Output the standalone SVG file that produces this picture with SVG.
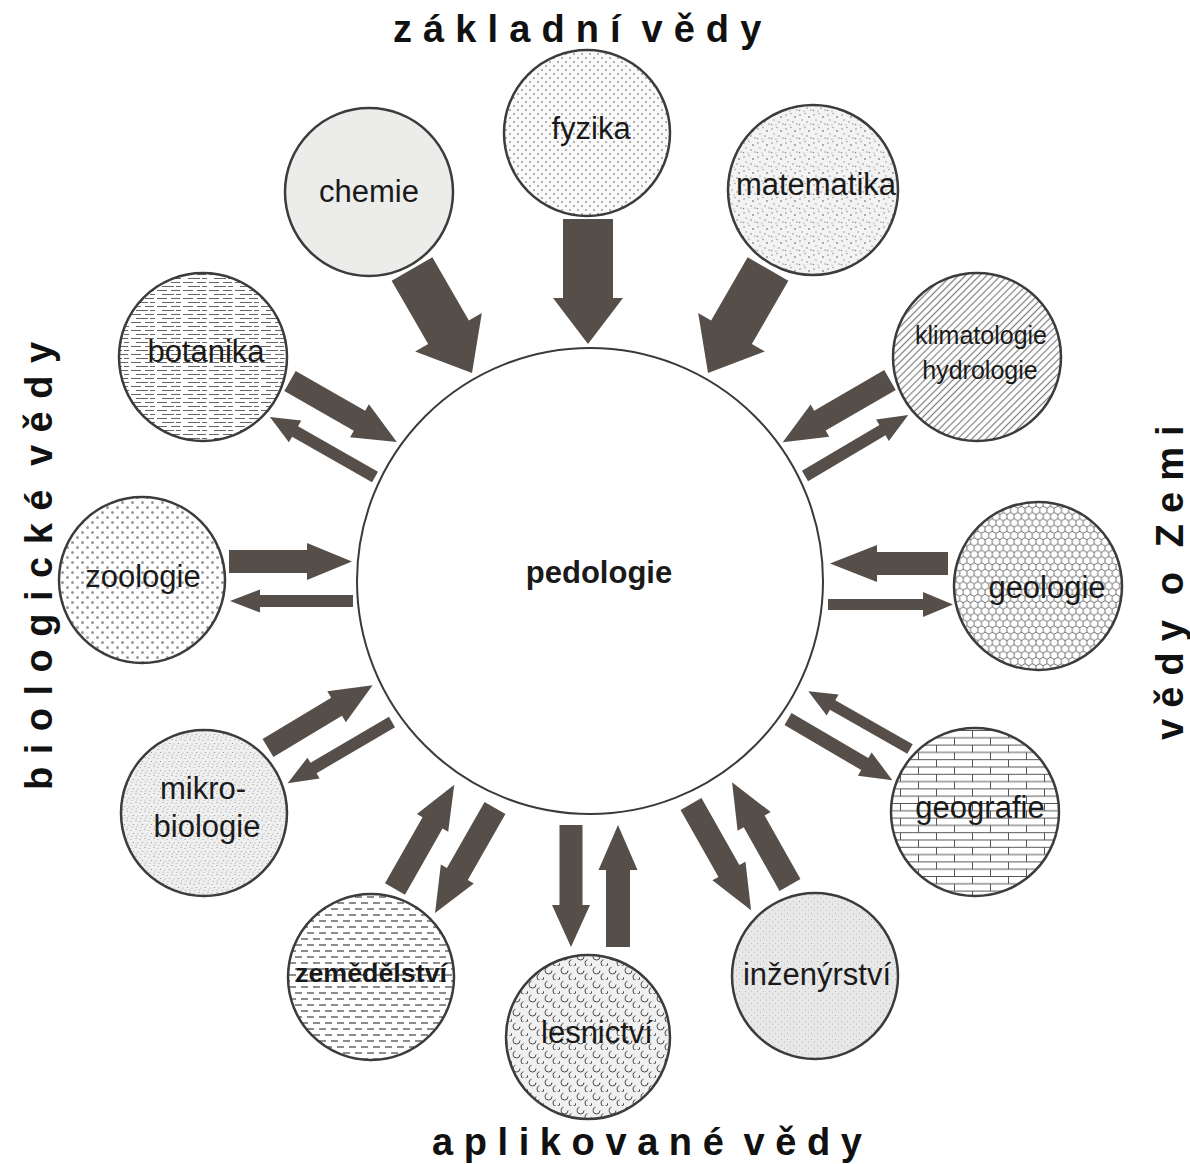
<svg xmlns="http://www.w3.org/2000/svg" width="1190" height="1164" viewBox="0 0 1190 1164">
<style>
.sat{stroke:#3c3c3c;stroke-width:2.5}
.ctr{fill:#fff;stroke:#3a3a3a;stroke-width:2}
.lbl{font-family:"Liberation Sans",Arial,sans-serif;font-size:31px;fill:#1a1a1a;text-anchor:middle}
.title{font-family:"Liberation Sans",Arial,sans-serif;font-weight:bold;font-size:38px;fill:#111}
.arr{fill:#564e49}
</style>
<defs>
<pattern id="pFyz" width="8" height="8" patternUnits="userSpaceOnUse"><rect width="8" height="8" fill="#fafafa"/><circle cx="2" cy="2" r="1" fill="#999"/><circle cx="6" cy="6" r="1" fill="#999"/></pattern>
<pattern id="pMat" width="14" height="14" patternUnits="userSpaceOnUse"><rect width="14" height="14" fill="#f3f3f3"/><g fill="#8a8a8a"><circle cx="2" cy="3" r="0.8"/><circle cx="7" cy="1.5" r="0.7"/><circle cx="11" cy="5" r="0.9"/><circle cx="4" cy="8" r="0.7"/><circle cx="9" cy="10" r="0.8"/><circle cx="13" cy="12" r="0.7"/><circle cx="1.5" cy="12.5" r="0.8"/><circle cx="6" cy="13" r="0.6"/></g></pattern>
<pattern id="pBot" width="26" height="8" patternUnits="userSpaceOnUse"><rect width="26" height="8" fill="#fff"/><path d="M1 2.5h10M15 2.5h9M6 6.5h12M20 6.5h5" stroke="#666" stroke-width="1"/></pattern>
<pattern id="pKli" width="5" height="5" patternUnits="userSpaceOnUse" patternTransform="rotate(45)"><rect width="5" height="5" fill="#fff"/><line x1="2.5" y1="0" x2="2.5" y2="5" stroke="#808080" stroke-width="1.2"/></pattern>
<pattern id="pZoo" width="10" height="10" patternUnits="userSpaceOnUse"><rect width="10" height="10" fill="#fff"/><circle cx="2.5" cy="2.5" r="1.5" fill="#9a9a9a"/><circle cx="7.5" cy="7.5" r="1.5" fill="#9a9a9a"/></pattern>
<pattern id="pGeo" width="7.27" height="12.6" patternUnits="userSpaceOnUse"><rect width="7.27" height="12.6" fill="#fff"/><path d="M3.64 0V2.1L7.27 4.2V8.4L3.64 10.5L0 8.4V4.2L3.64 2.1M3.64 10.5V12.6" fill="none" stroke="#666" stroke-width="0.9"/></pattern>
<pattern id="pMik" width="9" height="9" patternUnits="userSpaceOnUse"><rect width="9" height="9" fill="#efefef"/><g fill="#8c8c8c"><circle cx="1" cy="1.5" r="0.6"/><circle cx="5" cy="2.5" r="0.5"/><circle cx="7.5" cy="5.5" r="0.6"/><circle cx="3" cy="6" r="0.5"/><circle cx="6" cy="8.2" r="0.5"/><circle cx="1.2" cy="8" r="0.5"/></g></pattern>
<pattern id="pGgr" width="36" height="14.6" patternUnits="userSpaceOnUse"><rect width="36" height="14.6" fill="#fff"/><path d="M0 0.5H36M0 7.8H36M0.5 0.5V7.8M18.5 7.8V14.6" stroke="#555" stroke-width="1"/></pattern>
<pattern id="pZem" width="12" height="12" patternUnits="userSpaceOnUse"><rect width="12" height="12" fill="#fff"/><path d="M1 3H8M7 9H12M0 9H2" stroke="#666" stroke-width="1.3"/></pattern>
<pattern id="pLes" width="16" height="14" patternUnits="userSpaceOnUse"><rect width="16" height="14" fill="#f0f0f0"/><circle cx="4.5" cy="4.5" r="3.5" fill="none" stroke="#4a4a4a" stroke-width="1" stroke-dasharray="15 7"/><circle cx="12.5" cy="11" r="3.5" fill="none" stroke="#4a4a4a" stroke-width="1" stroke-dasharray="15 7"/></pattern>
<pattern id="pInz" width="6" height="6" patternUnits="userSpaceOnUse"><rect width="6" height="6" fill="#e8e8e8"/><circle cx="1.5" cy="1.5" r="0.5" fill="#aaa"/><circle cx="4.5" cy="4" r="0.5" fill="#aaa"/></pattern>
</defs>
<rect width="1190" height="1164" fill="#fff"/>

<text class="title" x="393" y="42" letter-spacing="11.1">základní <tspan dx="-12">vědy</tspan></text>
<text class="title" x="432" y="1155" letter-spacing="10.6">aplikované <tspan dx="-12">vědy</tspan></text>
<text class="title" transform="translate(52,790) rotate(-90)" letter-spacing="12.5">biologické <tspan dx="-12">vědy</tspan></text>
<text class="title" transform="translate(1183,740) rotate(-90)" letter-spacing="11.1">vědy <tspan dx="-8">o </tspan><tspan dx="-8">Zemi</tspan></text>

<g id="connectors">
<path class="arr" transform="translate(412,269) rotate(60)" d="M0,-23.5L73,-23.5L73,-38.5L120,0L73,38.5L73,23.5L0,23.5Z"/>
<path class="arr" transform="translate(588,219) rotate(90)" d="M0,-25L79,-25L79,-35L125,0L79,35L79,25L0,25Z"/>
<path class="arr" transform="translate(768,269) rotate(120)" d="M0,-23.5L73,-23.5L73,-38.5L120,0L73,38.5L73,23.5L0,23.5Z"/>
<path class="arr" transform="translate(290,381) rotate(29.7)" d="M0,-11.5L80,-11.5L80,-19L123,0L80,19L80,11.5L0,11.5Z"/>
<path class="arr" transform="translate(375,477) rotate(209.7)" d="M0,-6L92,-6L92,-12.5L121,0L92,12.5L92,6L0,6Z"/>
<path class="arr" transform="translate(890,380) rotate(149.9)" d="M0,-11.5L81,-11.5L81,-18.5L124,0L81,18.5L81,11.5L0,11.5Z"/>
<path class="arr" transform="translate(805,476) rotate(-30.6)" d="M0,-6L90,-6L90,-12.5L120,0L90,12.5L90,6L0,6Z"/>
<path class="arr" transform="translate(229,561.5)" d="M0,-11.5L78,-11.5L78,-18.5L123,0L78,18.5L78,11.5L0,11.5Z"/>
<path class="arr" transform="translate(353,601) rotate(180)" d="M0,-6L93,-6L93,-11.5L123,0L93,11.5L93,6L0,6Z"/>
<path class="arr" transform="translate(948,563.5) rotate(180)" d="M0,-11.5L71,-11.5L71,-18.5L118,0L71,18.5L71,11.5L0,11.5Z"/>
<path class="arr" transform="translate(828,604.5)" d="M0,-5.5L95,-5.5L95,-12.5L125,0L95,12.5L95,5.5L0,5.5Z"/>
<path class="arr" transform="translate(268,748) rotate(-31)" d="M0,-10.5L80,-10.5L80,-18L122,0L80,18L80,10.5L0,10.5Z"/>
<path class="arr" transform="translate(392,722) rotate(149.6)" d="M0,-6L91,-6L91,-12L121,0L91,12L91,6L0,6Z"/>
<path class="arr" transform="translate(910,749) rotate(209.6)" d="M0,-5.5L89,-5.5L89,-12L117,0L89,12L89,5.5L0,5.5Z"/>
<path class="arr" transform="translate(788,719) rotate(30.4)" d="M0,-7L89,-7L89,-13.5L121,0L89,13.5L89,7L0,7Z"/>
<path class="arr" transform="translate(395,889) rotate(-60.4)" d="M0,-11.5L76,-11.5L76,-18L120,0L76,18L76,11.5L0,11.5Z"/>
<path class="arr" transform="translate(495,808) rotate(119.7)" d="M0,-12L76,-12L76,-19L121,0L76,19L76,12L0,12Z"/>
<path class="arr" transform="translate(571,825) rotate(90)" d="M0,-11.5L80,-11.5L80,-19L122,0L80,19L80,11.5L0,11.5Z"/>
<path class="arr" transform="translate(618,947) rotate(-90)" d="M0,-12L77,-12L77,-19.5L122,0L77,19.5L77,12L0,12Z"/>
<path class="arr" transform="translate(691,804) rotate(60.5)" d="M0,-12L77,-12L77,-19L122,0L77,19L77,12L0,12Z"/>
<path class="arr" transform="translate(790,885) rotate(240.6)" d="M0,-12L73,-12L73,-19L118,0L73,19L73,12L0,12Z"/>
</g>

<g id="pedologie"><circle class="ctr" cx="590" cy="581" r="233"/><text class="lbl" x="599" y="583" style="font-weight:bold">pedologie</text></g>
<g id="fyzika"><circle class="sat" cx="587" cy="133" r="83" fill="url(#pFyz)"/><text class="lbl" x="591" y="139">fyzika</text></g>
<g id="chemie"><circle class="sat" cx="369" cy="192" r="84" fill="#ececeb"/><text class="lbl" x="369" y="202">chemie</text></g>
<g id="matematika"><circle class="sat" cx="813" cy="190" r="85" fill="url(#pMat)"/><text class="lbl" x="816" y="195">matematika</text></g>
<g id="botanika"><circle class="sat" cx="203" cy="357" r="84" fill="url(#pBot)"/><text class="lbl" x="206" y="362">botanika</text></g>
<g id="klimatologie"><circle class="sat" cx="977" cy="357" r="84" fill="url(#pKli)"/><text class="lbl" x="981" y="344" style="font-size:25px">klimatologie</text><text class="lbl" x="980" y="379" style="font-size:25px">hydrologie</text></g>
<g id="zoologie"><circle class="sat" cx="142" cy="580" r="83" fill="url(#pZoo)"/><text class="lbl" x="143" y="587">zoologie</text></g>
<g id="geologie"><circle class="sat" cx="1038" cy="586" r="84" fill="url(#pGeo)"/><text class="lbl" x="1047" y="598">geologie</text></g>
<g id="mikrobiologie"><circle class="sat" cx="204" cy="813" r="83" fill="url(#pMik)"/><text class="lbl" x="203" y="799">mikro-</text><text class="lbl" x="207" y="837">biologie</text></g>
<g id="geografie"><circle class="sat" cx="975" cy="812" r="84" fill="url(#pGgr)"/><text class="lbl" x="980" y="818">geografie</text></g>
<g id="zemedelstvi"><circle class="sat" cx="371" cy="977" r="83" fill="url(#pZem)"/><text class="lbl" x="371" y="982" style="font-size:25px;font-weight:bold" textLength="152" lengthAdjust="spacingAndGlyphs">zemědělství</text></g>
<g id="lesnictvi"><circle class="sat" cx="588" cy="1037" r="82" fill="url(#pLes)"/><text class="lbl" x="597" y="1043">lesnictví</text></g>
<g id="inzenyrstvi"><circle class="sat" cx="815" cy="976" r="83" fill="url(#pInz)"/><text class="lbl" x="817" y="985">inženýrství</text></g>
</svg>
